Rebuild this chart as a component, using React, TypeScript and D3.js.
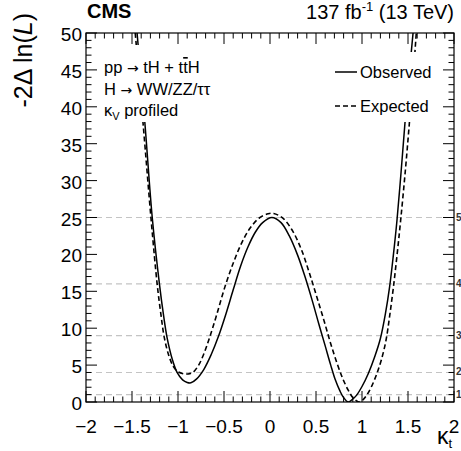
import React from 'react';
import * as d3 from 'd3';

// observed scan
const kappaObs = [-1.445, -1.36, -1.28, -1.2, -1.16, -1.12, -1.06, -1.01, -0.95, -0.9, -0.86, -0.8, -0.72, -0.64, -0.56, -0.48, -0.4, -0.32, -0.24, -0.16, -0.08, 0.02, 0.12, 0.21, 0.3, 0.38, 0.46, 0.53, 0.6, 0.66, 0.71, 0.76, 0.8, 0.85, 0.89, 0.94, 1.0, 1.07, 1.14, 1.2, 1.255, 1.3, 1.34, 1.38, 1.425, 1.467, 1.51, 1.555];
const nllObs = [50, 37.8, 25.0, 15.8, 12.0, 8.8, 5.7, 4.0, 3.0, 2.65, 2.6, 3.1, 4.4, 6.4, 8.9, 11.9, 15.2, 18.4, 21.0, 23.0, 24.3, 25.0, 24.3, 22.5, 19.9, 17.0, 13.7, 10.6, 7.6, 5.0, 3.0, 1.5, 0.6, 0, 0.3, 0.9, 2.1, 3.9, 6.2, 8.6, 12.0, 15.6, 19.8, 24.6, 31.2, 37.8, 44.0, 50];

// expected scan
const kappaExp = [-1.465, -1.38, -1.29, -1.225, -1.185, -1.15, -1.1, -1.05, -1.0, -0.94, -0.89, -0.84, -0.78, -0.72, -0.66, -0.58, -0.49, -0.4, -0.31, -0.22, -0.12, -0.02, 0.04, 0.14, 0.24, 0.34, 0.43, 0.51, 0.59, 0.66, 0.73, 0.79, 0.85, 0.9, 0.94, 0.97, 1.01, 1.05, 1.1, 1.16, 1.21, 1.26, 1.3, 1.34, 1.38, 1.42, 1.47, 1.515, 1.555, 1.59];
const nllExp = [50, 37.8, 24.4, 15.8, 11.8, 8.8, 6.3, 4.8, 4.1, 3.83, 3.8, 4.0, 4.9, 6.5, 8.6, 11.8, 15.6, 18.8, 21.5, 23.5, 24.9, 25.5, 25.55, 24.9, 23.3, 20.7, 17.4, 14.2, 10.9, 7.9, 5.2, 3.2, 1.6, 0.6, 0.15, 0, 0.3, 0.9, 2.0, 3.8, 5.7, 8.3, 11.6, 15.4, 19.8, 24.6, 31.2, 37.8, 44.0, 50];

const sigmaLevels = [1, 4, 9, 16, 25];
const sigmaLabels = ['1', '2', '3', '4', '5'];
const xTicks = [-2, -1.5, -1, -0.5, 0, 0.5, 1, 1.5, 2];
const xTickLabels = ['\u22122', '\u22121.5', '\u22121', '\u22120.5', '0', '0.5', '1', '1.5', '2'];
const yTicks = [0, 5, 10, 15, 20, 25, 30, 35, 40, 45, 50];

const W = 461;
const H = 451;
const left = 86, right = 454, top = 33, bottom = 402;
const font = '"Liberation Sans", Arial, Helvetica, sans-serif';
const arrowFont = '"DejaVu Sans", sans-serif';

export default function App() {
  const x = d3.scaleLinear().domain([-2, 2]).range([left, right]);
  const y = d3.scaleLinear().domain([0, 50]).range([bottom, top]);

  const line = d3.line<[number, number]>()
    .x(d => x(d[0]))
    .y(d => y(d[1]))
    .curve(d3.curveCatmullRom.alpha(0.5));

  const obsPath = line(kappaObs.map((k, i) => [k, nllObs[i]]) as [number, number][]) || '';
  const expPath = line(kappaExp.map((k, i) => [k, nllExp[i]]) as [number, number][]) || '';

  const xMinor = d3.range(-2, 2.001, 0.1).map(v => +v.toFixed(2));
  const yMinor = d3.range(0, 50.001, 1);
  const major = 11, minor = 5.5;

  return (
    <svg width={W} height={H} style={{ position: 'absolute', left: 0, top: 0, display: 'block', background: '#fff' }}
      fontFamily={font}>
      <defs>
        <clipPath id="plot">
          <rect x={left} y={top} width={right - left} height={bottom - top} />
        </clipPath>
      </defs>
      <rect x={0} y={0} width={W} height={H} fill="#fff" />

      {sigmaLevels.map((s, i) => (
        <g key={s}>
          <line x1={left} x2={right} y1={y(s)} y2={y(s)} stroke="#c4c4c4" strokeWidth={1.2} strokeDasharray="6 4" />
          <text x={right + 2} y={y(s) + 3} fontSize={10} fontWeight="bold" fill="#333">{sigmaLabels[i]}</text>
        </g>
      ))}

      <g clipPath="url(#plot)">
        <path d={expPath} fill="none" stroke="#000" strokeWidth={1.6} strokeDasharray="5 3" />
        <path d={obsPath} fill="none" stroke="#000" strokeWidth={1.5} />
      </g>

      {/* white panes behind the text blocks */}
      <rect x={98} y={45} width={142} height={77} fill="#fff" />
      <rect x={300} y={52} width={142} height={70} fill="#fff" />

      <g fontSize={16.5} fill="#000">
        <text x={104} y={73}>pp <tspan fontFamily={arrowFont} fontSize={14}>{'\u2192'}</tspan> tH + t<tspan textDecoration="overline">t</tspan>H</text>
        <text x={104} y={95}>H <tspan fontFamily={arrowFont} fontSize={14}>{'\u2192'}</tspan> WW/ZZ/{'\u03c4\u03c4'}</text>
        <text x={104} y={116}>{'\u03ba'}<tspan fontSize={11} dy={4}>V</tspan><tspan dy={-4}> profiled</tspan></text>
      </g>

      <line x1={335} x2={357} y1={72} y2={72} stroke="#000" strokeWidth={1.5} />
      <line x1={335} x2={357} y1={106} y2={106} stroke="#000" strokeWidth={1.5} strokeDasharray="5 3" />
      <text x={360} y={78} fontSize={16.5}>Observed</text>
      <text x={360} y={112} fontSize={16.5}>Expected</text>

      {/* frame and ticks */}
      <rect x={left} y={top} width={right - left} height={bottom - top} fill="none" stroke="#000" strokeWidth={1.2} />
      {xMinor.map(v => {
        const len = xTicks.some(t => Math.abs(t - v) < 1e-6) ? major : minor;
        return (
          <g key={'x' + v}>
            <line x1={x(v)} x2={x(v)} y1={bottom} y2={bottom - len} stroke="#000" />
            <line x1={x(v)} x2={x(v)} y1={top} y2={top + len} stroke="#000" />
          </g>
        );
      })}
      {yMinor.map(v => {
        const len = v % 5 === 0 ? major : minor;
        return (
          <g key={'y' + v}>
            <line x1={left} x2={left + len} y1={y(v)} y2={y(v)} stroke="#000" />
            <line x1={right} x2={right - len} y1={y(v)} y2={y(v)} stroke="#000" />
          </g>
        );
      })}

      {xTicks.map((t, i) => (
        <text key={'xl' + t} x={x(t)} y={433} fontSize={19} textAnchor="middle">{xTickLabels[i]}</text>
      ))}
      {yTicks.map(t => (
        <text key={'yl' + t} x={82} y={y(t) + 8} fontSize={19} textAnchor="end">{t}</text>
      ))}

      <text x={452} y={444} fontSize={23} textAnchor="end">{'\u03ba'}<tspan fontSize={13} dy={4}>t</tspan></text>
      <text transform="translate(32,13) rotate(-90)" fontSize={25} textAnchor="end">-2{'\u0394'} ln(<tspan fontStyle="italic">L</tspan>)</text>

      <text x={87} y={18} fontSize={20} fontWeight="bold">CMS</text>
      <text x={454} y={19} fontSize={20} textAnchor="end">137 fb<tspan fontSize={13} dy={-8}>-1</tspan><tspan dy={8}> (13 TeV)</tspan></text>
    </svg>
  );
}
